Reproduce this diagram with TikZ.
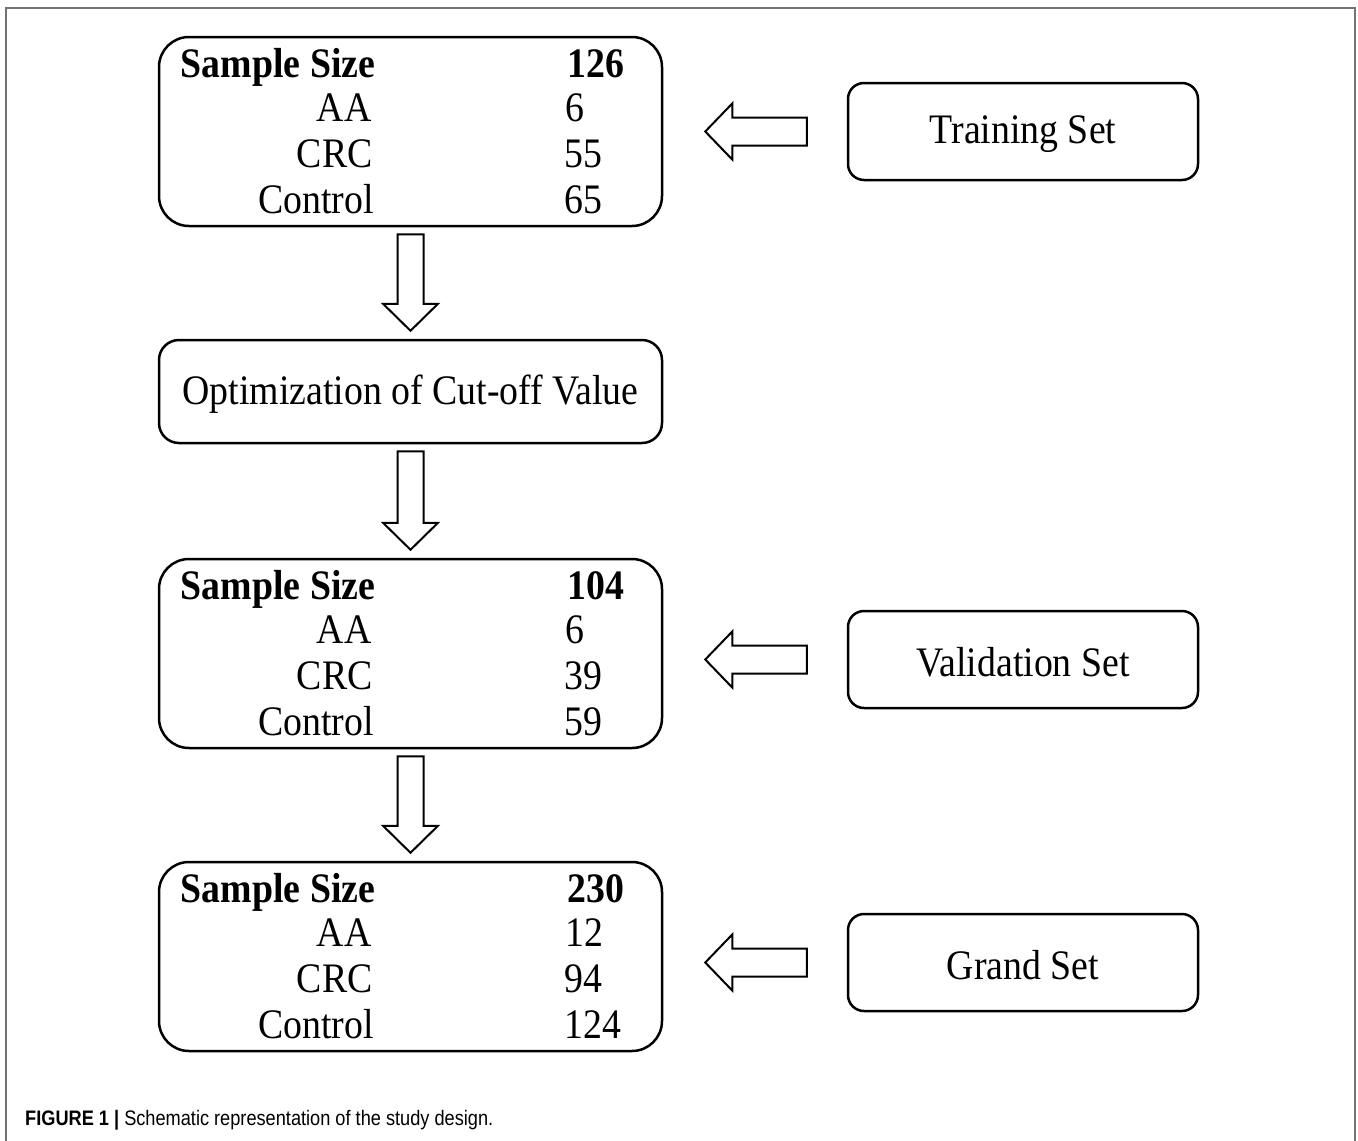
\documentclass[tikz,border=0pt]{standalone}
\usepackage{fontspec}
\setmainfont{Liberation Serif}[FakeStretch=0.9]
\newfontfamily\capfont{Liberation Sans}[FakeStretch=0.866]
\usetikzlibrary{calc}
\tikzset{
  bigbox/.style={draw, line width=2.5pt, rounded corners=30pt, minimum width=503pt, minimum height=189pt, inner sep=0pt},
  midbox/.style={draw, line width=2.5pt, rounded corners=20pt, minimum width=503pt, minimum height=103pt, inner sep=0pt},
  setbox/.style={draw, line width=2.5pt, rounded corners=16pt, minimum width=350pt, minimum height=97pt, inner sep=0pt},
  inlbl/.style={inner sep=0pt, font=\fontsize{42}{42}\selectfont},
  txt/.style={inner sep=0pt, font=\fontsize{42}{42}\selectfont},
  btxt/.style={inner sep=0pt, font=\fontsize{42}{42}\selectfont\bfseries},
  blk/.style={draw, line width=2pt, fill=white, line join=miter},
  frame/.style={draw=black!55, line width=1.5pt}
}
\newcommand\varr[2]{%
  \path[blk] let \p1=($(#1)+(0,7)$), \p2=($(#2)+(0,-8)$) in
    (\x1-13pt,\y1) -- (\x1+13pt,\y1) -- (\x1+13pt,\y2+27pt) -- (\x1+27.5pt,\y2+27pt)
    -- (\x1,\y2) -- (\x1-27.5pt,\y2+27pt) -- (\x1-13pt,\y2+27pt) -- cycle;}
\newcommand\harr[2]{%
  \path[blk] let \p1=($(#1)+(-40,0)$), \p2=($(#2)+(42,0)$) in
    (\x1,\y1-14pt) -- (\x1,\y1+14pt) -- (\x2+27pt,\y1+14pt) -- (\x2+27pt,\y1+28pt)
    -- (\x2,\y1) -- (\x2+27pt,\y1-28pt) -- (\x2+27pt,\y1-14pt) -- cycle;}
% table rows inside a big box: #1 box name, #2 total, #3 AA, #4 CRC, #5 Control
\newcommand\rows[5]{%
  \node[btxt, anchor=base west] (#1-h) at ($(#1.north west)+(23,42)$) {Sample Size};
  \node[btxt, anchor=base west] (#1-hn) at ($(#1.north west)+(410,42)$) {#2};
  \node[txt, anchor=base east] (#1-a) at ($(#1.north west)+(214,86)$) {AA};
  \node[txt, anchor=base west] (#1-an) at ($(#1.north west)+(408,86)$) {#3};
  \node[txt, anchor=base east] (#1-c) at ($(#1.north west)+(215,132)$) {CRC};
  \node[txt, anchor=base west] (#1-cn) at ($(#1.north west)+(407,132)$) {#4};
  \node[txt, anchor=base east] (#1-k) at ($(#1.north west)+(216,178)$) {Control};
  \node[txt, anchor=base west] (#1-kn) at ($(#1.north west)+(407,178)$) {#5};}
\begin{document}
\begin{tikzpicture}[x=1pt, y=-1pt]
\useasboundingbox (0,0) rectangle (1358,1141);
\fill[white] (0,0) rectangle (1358,1141);
\draw[frame] (6,1141) -- (6,8) -- (1355,8) -- (1355,1141);

\node[bigbox] (b1) at (410.5,131.5) {};
\node[midbox] (opt) at (410.5,391.5) {};
\node[inlbl, yshift=-3pt] (optl) at (opt) {Optimization of Cut-off Value};
\node[bigbox] (b2) at (410.5,653.5) {};
\node[bigbox] (b3) at (410.5,956.5) {};

\node[setbox] (train) at (1023,131.5) {};
\node[inlbl, yshift=-3pt] (trainl) at (train) {Training Set};
\node[setbox] (valid) at (1023,659.5) {};
\node[inlbl, yshift=-3pt] (validl) at (valid) {Validation Set};
\node[setbox] (grand) at (1023,962.5) {};
\node[inlbl, yshift=-3pt] (grandl) at (grand) {Grand Set};

\rows{b1}{126}{6}{55}{65}
\rows{b2}{104}{6}{39}{59}
\rows{b3}{230}{12}{94}{124}

\varr{b1.south}{opt.north}
\varr{opt.south}{b2.north}
\varr{b2.south}{b3.north}

\harr{train.west}{b1.east}
\harr{valid.west}{b2.east}
\harr{grand.west}{b3.east}

\node[anchor=base west, inner sep=0pt, font=\capfont\fontsize{21}{21}\selectfont] (cap) at (25,1125)
  {\textbf{FIGURE 1 |} Schematic representation of the study design.};
\end{tikzpicture}
\end{document}
